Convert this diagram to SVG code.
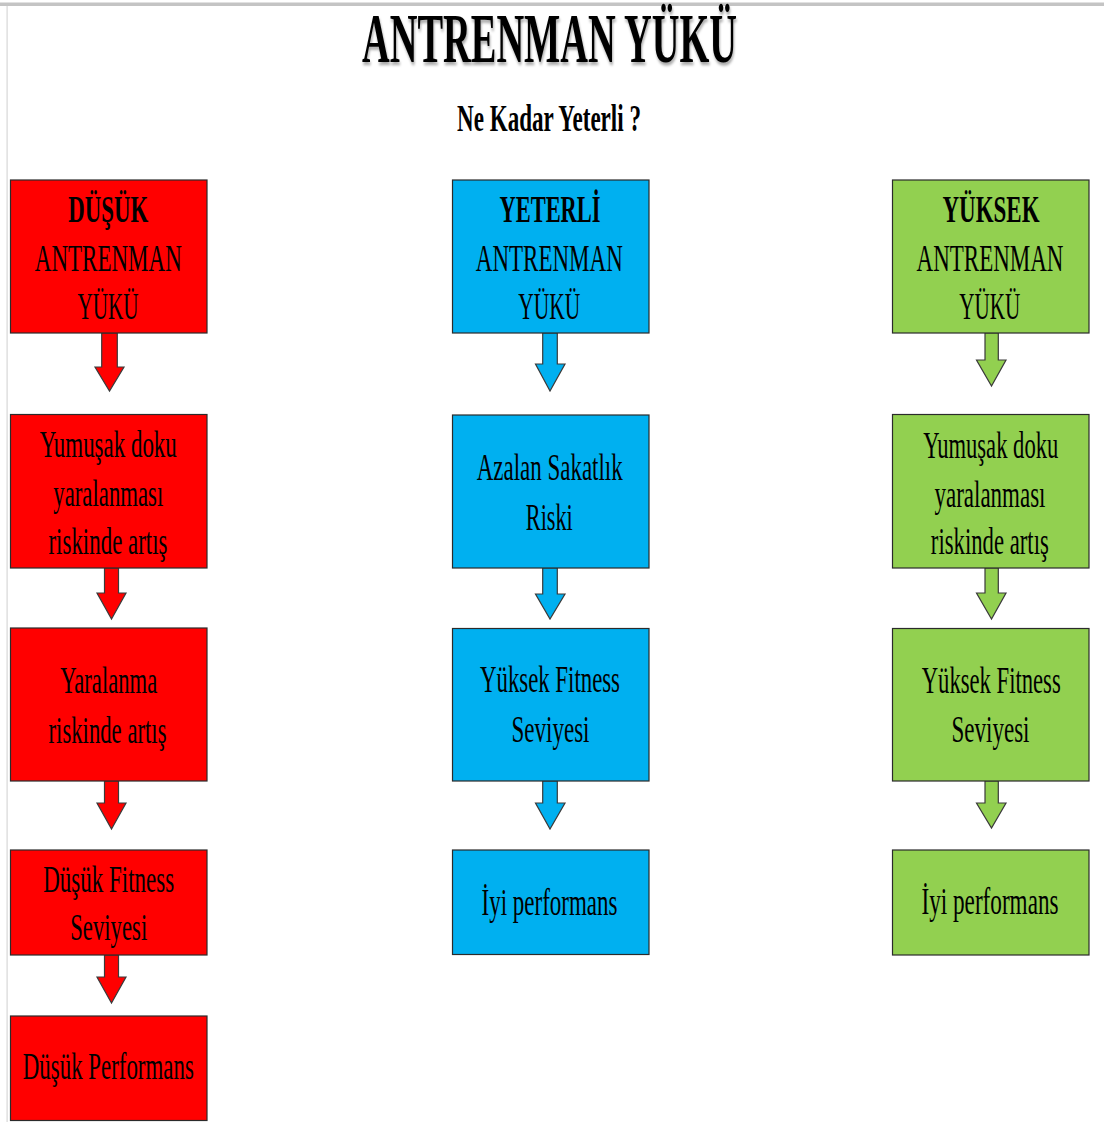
<svg xmlns="http://www.w3.org/2000/svg" width="1104" height="1122" viewBox="0 0 1104 1122">
<style>
.red{fill:#FF0000}
.blue{fill:#00B0F0}
.green{fill:#92D050}
.box{stroke:#2b2b2b;stroke-width:1.2}
.arr{stroke:#3a3a3a;stroke-width:1.2;stroke-linejoin:miter}
text{font-family:"Liberation Serif","Times New Roman",serif;fill:#000;text-anchor:middle}
.t{font-size:37px}
.b{font-size:37px;font-weight:bold}
</style>
<defs>
<filter id="sh" x="-5%" y="-5%" width="115%" height="130%">
<feDropShadow dx="1.5" dy="3" stdDeviation="1.5" flood-color="#000" flood-opacity="0.35"/>
</filter>
</defs>
<rect x="0" y="0" width="1104" height="1122" fill="#fff"/>
<rect x="0" y="2.5" width="1104" height="3.5" fill="#c4c4c4"/>
<rect x="6.5" y="6" width="1.2" height="1116" fill="#d8d8d8"/>

<g id="title">
<text transform="translate(549.5,62) scale(0.55,1)" style="font-size:70px;font-weight:bold" textLength="681.8" lengthAdjust="spacingAndGlyphs" filter="url(#sh)">ANTRENMAN YÜKÜ</text>
<text transform="translate(549,131) scale(0.62,1)" style="font-size:38px;font-weight:bold" textLength="296.8" lengthAdjust="spacingAndGlyphs">Ne Kadar Yeterli ?</text>
</g>

<g id="connectors">
<polygon class="arr red" points="101.7,333 117.3,333 117.3,367 124,367 109.5,391 95,367 101.7,367"/>
<polygon class="arr red" points="104.5,568 118.5,568 118.5,593 126,593 111.5,619 97,593 104.5,593"/>
<polygon class="arr red" points="104.5,781 118.5,781 118.5,803 126,803 111.5,829 97,803 104.5,803"/>
<polygon class="arr red" points="104.5,955 118.5,955 118.5,977 126,977 111.5,1003 97,977 104.5,977"/>

<polygon class="arr blue" points="542.7,333 557.3,333 557.3,364 565,364 550,391 535.5,364 542.7,364"/>
<polygon class="arr blue" points="542.7,568 557.3,568 557.3,594 565,594 550,619 535.5,594 542.7,594"/>
<polygon class="arr blue" points="542.7,781 557.3,781 557.3,803 565,803 550,829 535.5,803 542.7,803"/>

<polygon class="arr green" points="985,333 998.3,333 998.3,360 1006,360 991.5,386 976.5,360 985,360"/>
<polygon class="arr green" points="985,568 998.3,568 998.3,593 1006,593 991.5,619 976.5,593 985,593"/>
<polygon class="arr green" points="985,781 998.3,781 998.3,803 1006,803 991.5,828 976.5,803 985,803"/>
</g>

<g id="n-dusuk">
<rect class="box red" x="10.5" y="180" width="196.5" height="153"/>
<text class="b" transform="translate(108.3,222) scale(0.62,1)" textLength="129" lengthAdjust="spacingAndGlyphs">DÜŞÜK</text>
<text class="t" transform="translate(108.3,271) scale(0.62,1)" textLength="237" lengthAdjust="spacingAndGlyphs">ANTRENMAN</text>
<text class="t" transform="translate(108,319) scale(0.62,1)" textLength="98.4" lengthAdjust="spacingAndGlyphs">YÜKÜ</text>
</g>
<g id="n-dusuk-2">
<rect class="box red" x="10.5" y="414.5" width="196.5" height="153.5"/>
<text class="t" transform="translate(108.3,456.5) scale(0.62,1)" textLength="221" lengthAdjust="spacingAndGlyphs">Yumuşak doku</text>
<text class="t" transform="translate(108.3,505.5) scale(0.62,1)" textLength="177.4" lengthAdjust="spacingAndGlyphs">yaralanması</text>
<text class="t" transform="translate(108,554) scale(0.62,1)" textLength="192" lengthAdjust="spacingAndGlyphs">riskinde artış</text>
</g>
<g id="n-dusuk-3">
<rect class="box red" x="10.5" y="628" width="196.5" height="153"/>
<text class="t" transform="translate(108.7,692.5) scale(0.62,1)" textLength="156.5" lengthAdjust="spacingAndGlyphs">Yaralanma</text>
<text class="t" transform="translate(107.5,742.5) scale(0.62,1)" textLength="190.3" lengthAdjust="spacingAndGlyphs">riskinde artış</text>
</g>
<g id="n-dusuk-4">
<rect class="box red" x="10.5" y="850" width="196.5" height="105"/>
<text class="t" transform="translate(108.7,891.5) scale(0.62,1)" textLength="211.3" lengthAdjust="spacingAndGlyphs">Düşük Fitness</text>
<text class="t" transform="translate(108.7,940) scale(0.62,1)" textLength="124.2" lengthAdjust="spacingAndGlyphs">Seviyesi</text>
</g>
<g id="n-dusuk-5">
<rect class="box red" x="10.5" y="1016" width="196.5" height="104.5"/>
<text class="t" transform="translate(108.3,1078.5) scale(0.62,1)" textLength="275.8" lengthAdjust="spacingAndGlyphs">Düşük Performans</text>
</g>

<g id="n-yeterli">
<rect class="box blue" x="452.5" y="180" width="196.5" height="153"/>
<text class="b" transform="translate(550,222) scale(0.62,1)" textLength="162.9" lengthAdjust="spacingAndGlyphs">YETERLİ</text>
<text class="t" transform="translate(549.3,271) scale(0.62,1)" textLength="237" lengthAdjust="spacingAndGlyphs">ANTRENMAN</text>
<text class="t" transform="translate(549.2,319) scale(0.62,1)" textLength="100" lengthAdjust="spacingAndGlyphs">YÜKÜ</text>
</g>
<g id="n-yeterli-2">
<rect class="box blue" x="452.5" y="415" width="196.5" height="153"/>
<text class="t" transform="translate(549.7,480) scale(0.62,1)" textLength="235.5" lengthAdjust="spacingAndGlyphs">Azalan Sakatlık</text>
<text class="t" transform="translate(549.3,530) scale(0.62,1)" textLength="75.8" lengthAdjust="spacingAndGlyphs">Riski</text>
</g>
<g id="n-yeterli-3">
<rect class="box blue" x="452.5" y="628.5" width="196.5" height="152.5"/>
<text class="t" transform="translate(550,691.5) scale(0.62,1)" textLength="225.8" lengthAdjust="spacingAndGlyphs">Yüksek Fitness</text>
<text class="t" transform="translate(550.5,741.5) scale(0.62,1)" textLength="125.8" lengthAdjust="spacingAndGlyphs">Seviyesi</text>
</g>
<g id="n-yeterli-4">
<rect class="box blue" x="452.5" y="850" width="196.5" height="104.5"/>
<text class="t" transform="translate(549.5,914.5) scale(0.62,1)" textLength="219.4" lengthAdjust="spacingAndGlyphs">İyi performans</text>
</g>

<g id="n-yuksek">
<rect class="box green" x="892.5" y="180" width="196.5" height="153"/>
<text class="b" transform="translate(991,222) scale(0.62,1)" textLength="156.5" lengthAdjust="spacingAndGlyphs">YÜKSEK</text>
<text class="t" transform="translate(990,271) scale(0.62,1)" textLength="237" lengthAdjust="spacingAndGlyphs">ANTRENMAN</text>
<text class="t" transform="translate(989.7,319) scale(0.62,1)" textLength="98.4" lengthAdjust="spacingAndGlyphs">YÜKÜ</text>
</g>
<g id="n-yuksek-2">
<rect class="box green" x="892.5" y="414.5" width="196.5" height="153.5"/>
<text class="t" transform="translate(990.8,458) scale(0.62,1)" textLength="217.7" lengthAdjust="spacingAndGlyphs">Yumuşak doku</text>
<text class="t" transform="translate(990,506.5) scale(0.62,1)" textLength="179" lengthAdjust="spacingAndGlyphs">yaralanması</text>
<text class="t" transform="translate(989.8,553.5) scale(0.62,1)" textLength="190.3" lengthAdjust="spacingAndGlyphs">riskinde artış</text>
</g>
<g id="n-yuksek-3">
<rect class="box green" x="892.5" y="628.5" width="196.5" height="152.5"/>
<text class="t" transform="translate(991.2,693) scale(0.62,1)" textLength="224.2" lengthAdjust="spacingAndGlyphs">Yüksek Fitness</text>
<text class="t" transform="translate(990.5,741.5) scale(0.62,1)" textLength="125.8" lengthAdjust="spacingAndGlyphs">Seviyesi</text>
</g>
<g id="n-yuksek-4">
<rect class="box green" x="892.5" y="850" width="196.5" height="105"/>
<text class="t" transform="translate(990,913.5) scale(0.62,1)" textLength="221" lengthAdjust="spacingAndGlyphs">İyi performans</text>
</g>
</svg>
